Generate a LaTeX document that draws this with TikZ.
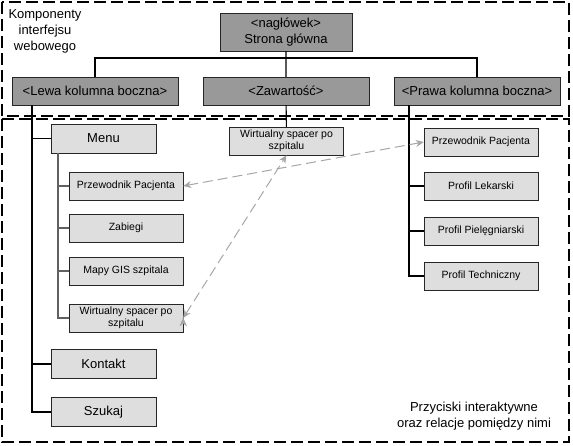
\documentclass[tikz,border=0pt]{standalone}
\usepackage{fontspec}
\setmainfont{Liberation Sans}
\usetikzlibrary{arrows,arrows.meta,positioning}
\tikzset{font=\fontsize{13}{16}\selectfont}
\tikzstyle{dark}=[draw=black!85,fill=black!40,minimum width=166pt,minimum height=28pt,inner sep=0pt,align=center]
\tikzstyle{light}=[draw=black!85,fill=black!13,minimum width=105pt,minimum height=29pt,inner sep=0pt,align=center]
\tikzstyle{small}=[light,minimum width=114pt,minimum height=28pt,font=\fontsize{10.5}{12}\selectfont]
\tikzstyle{frame}=[line width=1.5pt,dash pattern=on 12pt off 5pt]
\begin{document}
\begin{tikzpicture}[x=1pt,y=-1pt]
\useasboundingbox (0,0) rectangle (573,445);
\draw[frame] (2,2) rectangle (569,116);
\draw[frame] (2,119) rectangle (569,442);
\node[align=center] (T) at (45,31) {Komponenty\\interfejsu\\webowego};
\node[align=center] (U) at (474,416) {Przyciski interaktywne\\oraz relacje pomiędzy nimi};
\node[dark,minimum width=132pt,minimum height=38pt] (H) at (286,32) {<nagłówek>\\Strona główna};
\node[dark] (L) at (95,91) {<Lewa kolumna boczna>};
\node[dark] (Z) at (286,91) {<Zawartość>};
\node[dark] (R) at (477,91) {<Prawa kolumna boczna>};
\node[small] (W) at (286.5,141) {Wirtualny spacer po\\szpitalu};
% lewa kolumna
\node[light] (M) at (103.5,138.5) {Menu};
\node[small] (A) at (126,186) {Przewodnik Pacjenta};
\node[small] (B) at (126,228) {Zabiegi};
\node[small] (C) at (126,271) {Mapy GIS szpitala};
\node[small] (D) at (126,318) {Wirtualny spacer po\\szpitalu};
\node[light] (K) at (103.5,364) {Kontakt};
\node[light] (S) at (103.5,412) {Szukaj};
% prawa kolumna
\node[small] (R1) at (481,142) {Przewodnik Pacjenta};
\node[small] (R2) at (481,186) {Profil Lekarski};
\node[small] (R3) at (481,231) {Profil Pielęgniarski};
\node[small] (R4) at (481,276) {Profil Techniczny};
\coordinate (t) at (286,58);
\coordinate (l) at (32,105);
\coordinate (m) at (58,153);
\coordinate (r) at (409,105);
\begin{scope}[line width=1.1pt]
\draw (L) |- (t) -| (R);
\draw (H) -- (Z) (Z) -- (W);
\draw (l) |- (M) (l) |- (K) (l) |- (S);
\draw (r) |- (R2) (r) |- (R3) (r) |- (R4);
\draw[black!62] (m) |- (A) (m) |- (B) (m) |- (C) (m) |- (D);
\end{scope}
\path[{Stealth[length=8pt,width=7pt]}-{Stealth[length=8pt,width=7pt]},draw=black!35,fill=black!35,line width=1pt,dash pattern=on 10pt off 5pt]
(A.east) edge (R1.west)
(D.east) edge (W.south);
\end{tikzpicture}
\end{document}
